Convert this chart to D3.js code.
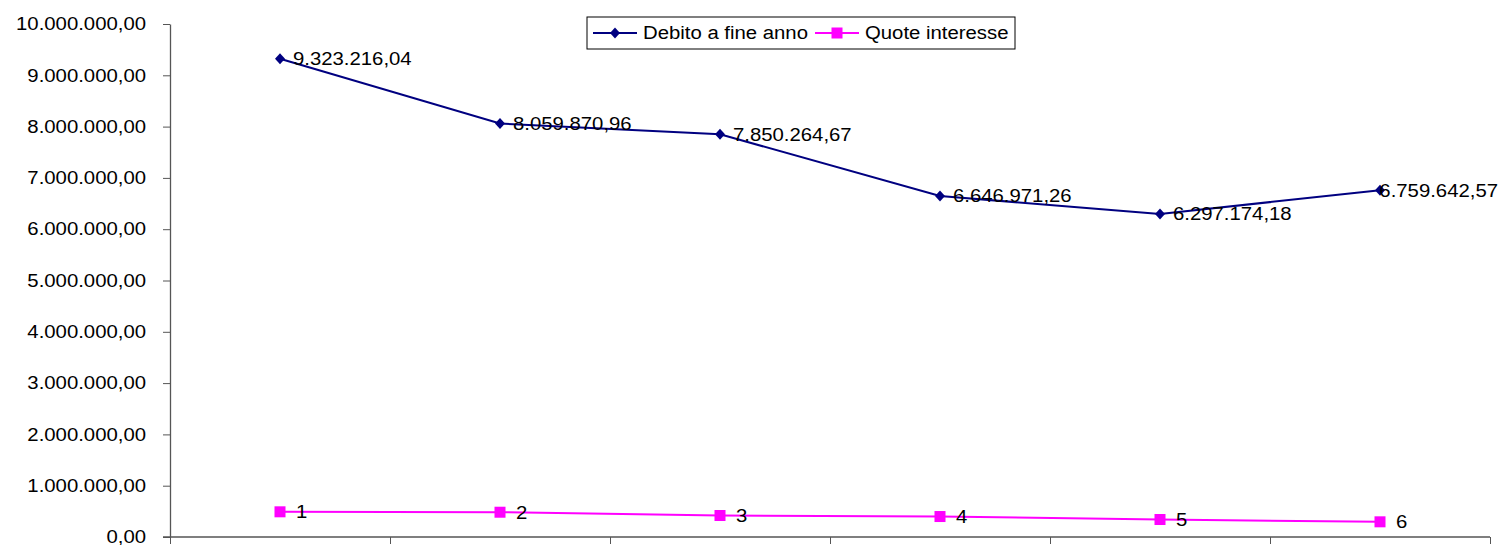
<!DOCTYPE html>
<html>
<head>
<meta charset="utf-8">
<script src="https://cdn.jsdelivr.net/npm/d3@7"></script>
<style>
  body { margin: 0; background: #fff; }
  svg { display: block; font-family: "Liberation Sans", Arial, sans-serif; }
</style>
</head>
<body>
<svg id="svg" width="1503" height="545"></svg>
<script>
const categories = ["1", "2", "3", "4", "5", "6"];
const debito = [9323216.04, 8059870.96, 7850264.67, 6646971.26, 6297174.18, 6759642.57];
const interessi = [491000, 483000, 419000, 399000, 341000, 296000];
const yTicks = [0, 1000000, 2000000, 3000000, 4000000, 5000000, 6000000, 7000000, 8000000, 9000000, 10000000];
const seriesNames = ["Debito a fine anno", "Quote interesse"];

// text in the picture is a bit stretched sideways
const stretch = 1.13;
const fontSize = "18px";

const it = d3.formatLocale({ decimal: ",", thousands: ".", grouping: [3], currency: ["€", ""] });
const fmt = it.format(",.2f");

const svg = d3.select("#svg");

const margins = { top: 24, right: 13, bottom: 8, left: 170 };
const width = 1503, height = 545;

// category boundaries on a linear scale, points sit in the middle of each slot
const x = d3.scaleLinear().domain([0, categories.length]).range([margins.left, width - margins.right]);
const y = d3.scaleLinear().domain([0, 10000000]).range([height - margins.bottom, margins.top]);
const cx = i => x(i + 0.5);

// y axis
const yAxis = svg.append("g")
    .attr("transform", `translate(${margins.left},0)`)
    .call(d3.axisLeft(y).tickValues(yTicks).tickFormat(fmt).tickSize(7).tickSizeOuter(0));
yAxis.select(".domain").attr("stroke", "#555").attr("stroke-width", 1.3);
yAxis.selectAll(".tick line").attr("stroke", "#555");
yAxis.selectAll(".tick text")
    .attr("x", -24 / stretch)
    .attr("transform", `scale(${stretch},1)`)
    .attr("fill", "#000")
    .style("font-size", fontSize)
    .style("font-family", "Liberation Sans, Arial, sans-serif");

// x axis, ticks between categories, no labels
const xAxis = svg.append("g")
    .attr("transform", `translate(0,${y(0)})`)
    .call(d3.axisBottom(x).tickValues(d3.range(0, categories.length + 1)).tickFormat("").tickSize(7).tickSizeOuter(0));
xAxis.select(".domain").attr("stroke", "#555").attr("stroke-width", 1.6)
    .attr("d", `M${margins.left - 7},0H${width - margins.right}`);
xAxis.selectAll(".tick line").attr("stroke", "#555");

const line = d3.line().x((d, i) => cx(i)).y(d => y(d));

// Debito a fine anno
svg.append("path")
    .datum(debito)
    .attr("fill", "none")
    .attr("stroke", "#000080")
    .attr("stroke-width", 2)
    .attr("d", line);

// Quote interesse
svg.append("path")
    .datum(interessi)
    .attr("fill", "none")
    .attr("stroke", "#ff00ff")
    .attr("stroke-width", 2)
    .attr("d", line);

svg.append("g").selectAll("path")
    .data(debito)
    .join("path")
    .attr("transform", (d, i) => `translate(${cx(i)},${y(d)})`)
    .attr("d", "M0,-5.5L5,0L0,5.5L-5,0Z")
    .attr("fill", "#000080");

svg.append("g").selectAll("rect")
    .data(interessi)
    .join("rect")
    .attr("x", (d, i) => cx(i) - 5.5)
    .attr("y", d => y(d) - 5.5)
    .attr("width", 11)
    .attr("height", 11)
    .attr("fill", "#ff00ff");

// data labels, kept inside the picture on the right
const addLabel = (px, py, txt) => {
    const g = svg.append("g").attr("transform", `translate(${px + 13},${py})`);
    const t = g.append("text")
        .attr("dy", "0.35em")
        .attr("transform", `scale(${stretch},1)`)
        .style("font-size", fontSize)
        .text(txt);
    const w = t.node().getComputedTextLength() * stretch;
    const over = px + 13 + w - 1498;
    if (over > 0) g.attr("transform", `translate(${px + 13 - over},${py})`);
};

debito.forEach((d, i) => addLabel(cx(i), y(d), fmt(d)));
interessi.forEach((d, i) => addLabel(cx(i) + 3, y(d), categories[i]));

// legend
const legend = svg.append("g");
legend.append("rect")
    .attr("x", 587).attr("y", 17).attr("width", 428).attr("height", 32)
    .attr("fill", "#fff").attr("stroke", "#000").attr("stroke-width", 1);

const items = [
    { name: seriesNames[0], color: "#000080", x0: 593, tx: 643, shape: "diamond" },
    { name: seriesNames[1], color: "#ff00ff", x0: 815, tx: 865, shape: "square" }
];
items.forEach(it => {
    const ly = 33;
    legend.append("line")
        .attr("x1", it.x0).attr("x2", it.x0 + 44).attr("y1", ly).attr("y2", ly)
        .attr("stroke", it.color).attr("stroke-width", 2);
    if (it.shape === "diamond") {
        legend.append("path")
            .attr("transform", `translate(${it.x0 + 22},${ly})`)
            .attr("d", "M0,-5.5L5,0L0,5.5L-5,0Z")
            .attr("fill", it.color);
    } else {
        legend.append("rect")
            .attr("x", it.x0 + 22 - 5.5).attr("y", ly - 5.5)
            .attr("width", 11).attr("height", 11)
            .attr("fill", it.color);
    }
    legend.append("g")
        .attr("transform", `translate(${it.tx},${ly})`)
        .append("text")
        .attr("dy", "0.35em")
        .attr("transform", `scale(${stretch},1)`)
        .style("font-size", fontSize)
        .text(it.name);
});
</script>
</body>
</html>
